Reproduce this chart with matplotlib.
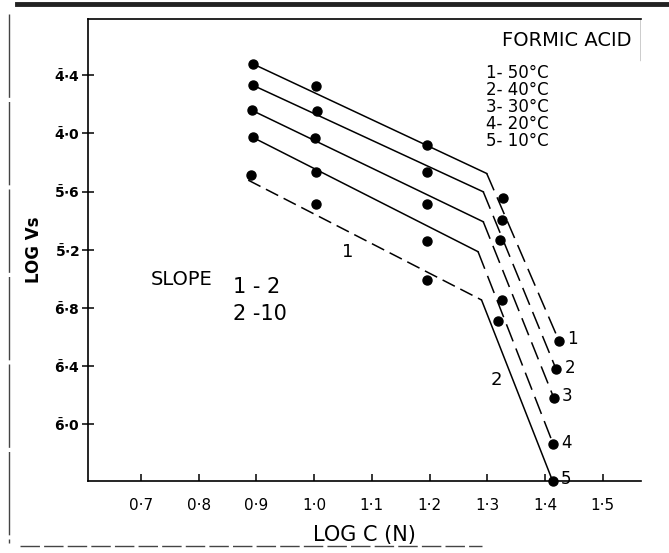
import matplotlib
matplotlib.use('Agg')
import matplotlib.pyplot as plt
from matplotlib.lines import Line2D

#----------------------  values
temps = ['50°C', '40°C', '30°C', '20°C', '10°C']
curve_ids = ['1', '2', '3', '4', '5']

# log C (N) of the plotted points, one list per temperature
c_50 = [0.895, 1.004, 1.196, 1.327, 1.424]
c_40 = [0.894, 1.005, 1.196, 1.325, 1.419]
c_30 = [0.892, 1.001, 1.196, 1.322, 1.415]
c_20 = [0.894, 1.003, 1.196, 1.325, 1.414]
c_10 = [0.890, 1.003, 1.196, 1.319, 1.413]

# log Vs of the plotted points (bar notation: 4.4 bar = -3.6)
v_50 = [-3.524, -3.676, -4.081, -4.447, -5.426]
v_40 = [-3.669, -3.845, -4.269, -4.597, -5.621]
v_30 = [-3.841, -4.035, -4.489, -4.734, -5.818]
v_20 = [-4.028, -4.267, -4.739, -5.146, -6.136]
v_10 = [-4.287, -4.487, -5.009, -5.291, -6.390]

# hand drawn lines: start, break point, end
fit_c_50 = [0.895, 1.299, 1.424]
fit_v_50 = [-3.524, -4.276, -5.426]
fit_c_40 = [0.894, 1.293, 1.419]
fit_v_40 = [-3.669, -4.402, -5.621]
fit_c_30 = [0.892, 1.293, 1.415]
fit_v_30 = [-3.841, -4.608, -5.818]
fit_c_20 = [0.894, 1.284, 1.414]
fit_v_20 = [-4.028, -4.814, -6.136]
fit_c_10 = [0.886, 1.290, 1.413]
fit_v_10 = [-4.322, -5.146, -6.390]

x_ticks = [0.7, 0.8, 0.9, 1.0, 1.1, 1.2, 1.3, 1.4, 1.5]
x_tick_labels = ['0·7', '0·8', '0·9', '1·0', '1·1', '1·2', '1·3', '1·4', '1·5']
y_ticks = [-6.0, -5.6, -5.2, -4.8, -4.4, -4.0, -3.6]
y_tick_labels = [r'$\bar{\mathbf{6}}\mathbf{\cdot0}$', r'$\bar{\mathbf{6}}\mathbf{\cdot4}$',
                 r'$\bar{\mathbf{6}}\mathbf{\cdot8}$', r'$\bar{\mathbf{5}}\mathbf{\cdot2}$',
                 r'$\bar{\mathbf{5}}\mathbf{\cdot6}$', r'$\bar{\mathbf{4}}\mathbf{\cdot0}$',
                 r'$\bar{\mathbf{4}}\mathbf{\cdot4}$']
#----------------------

points_c = [c_50, c_40, c_30, c_20, c_10]
points_v = [v_50, v_40, v_30, v_20, v_10]
fits_c = [fit_c_50, fit_c_40, fit_c_30, fit_c_20, fit_c_10]
fits_v = [fit_v_50, fit_v_40, fit_v_30, fit_v_20, fit_v_10]

flat_style = ['-', '-', '-', '-', (0, (9, 4))]
steep_style = [(0, (12, 5)), (0, (12, 5)), (0, (12, 5)), (0, (12, 5)), '-']

fig = plt.figure(figsize=(6.69, 5.53), dpi=100)
ax = fig.add_axes([0.132, 0.130, 0.826, 0.836])

for i in range(5):
    fx = fits_c[i]
    fy = fits_v[i]
    ax.plot(fx[0:2], fy[0:2], color='black', lw=1.1, linestyle=flat_style[i])
    ax.plot(fx[1:3], fy[1:3], color='black', lw=1.1, linestyle=steep_style[i])
    ax.plot(points_c[i], points_v[i], 'o', color='black', ms=6.5, clip_on=False)
    ax.annotate(curve_ids[i], (points_c[i][-1], points_v[i][-1]), xytext=(6, 1),
                textcoords='offset points', fontsize=12, va='center', ha='left')

ax.set_xlim(0.609, 1.566)
ax.set_ylim(-6.392, -3.212)
ax.set_xticks(x_ticks)
ax.set_xticklabels(x_tick_labels, fontsize=11)
ax.set_yticks(y_ticks)
ax.set_yticklabels(y_tick_labels, fontsize=10)
ax.tick_params(axis='x', direction='in', length=5, width=1.1, pad=12)
ax.tick_params(axis='y', direction='inout', length=8, width=1.1, pad=2)

for s in ['left', 'bottom', 'top']:
    ax.spines[s].set_linewidth(1.2)
ax.spines['right'].set_visible(False)
ax.add_line(Line2D([1, 1], [1, 0.91], transform=ax.transAxes, color='black', lw=1.0))

ax.set_xlabel('LOG C (N)', fontsize=15, labelpad=9)
ax.set_ylabel('LOG Vs', fontsize=12, fontweight='bold', labelpad=8)

# notes written on the sheet
ax.text(1.058, -4.817, '1', fontsize=13, ha='center', va='center')
ax.text(1.316, -5.696, '2', fontsize=13, ha='center', va='center')
ax.text(0.717, -5.043, 'SLOPE', fontsize=14, ha='left', va='baseline')
ax.text(0.860, -5.098, '1 - 2', fontsize=15, ha='left', va='baseline')
ax.text(0.860, -5.284, '2 -10', fontsize=15, ha='left', va='baseline')

ax.text(0.866, 0.952, 'FORMIC ACID', transform=ax.transAxes, fontsize=14,
        ha='center', va='center')
for i in range(5):
    ax.text(0.7196, 0.883 - i * 0.037, curve_ids[i] + '- ' + temps[i],
            transform=ax.transAxes, fontsize=12, ha='left', va='center')

# edges of the scanned page
fig.add_artist(Line2D([0.025, 1.0], [0.993, 0.993], color='#222222', lw=3.5))
fig.add_artist(Line2D([0.0135, 0.0135], [0.975, 0.018], color='#444444', lw=1,
                      linestyle=(0, (60, 3))))
fig.add_artist(Line2D([0.03, 0.72], [0.0127, 0.0127], color='#444444', lw=1,
                      linestyle=(0, (14, 3))))

fig.savefig('out.png', dpi=100)
